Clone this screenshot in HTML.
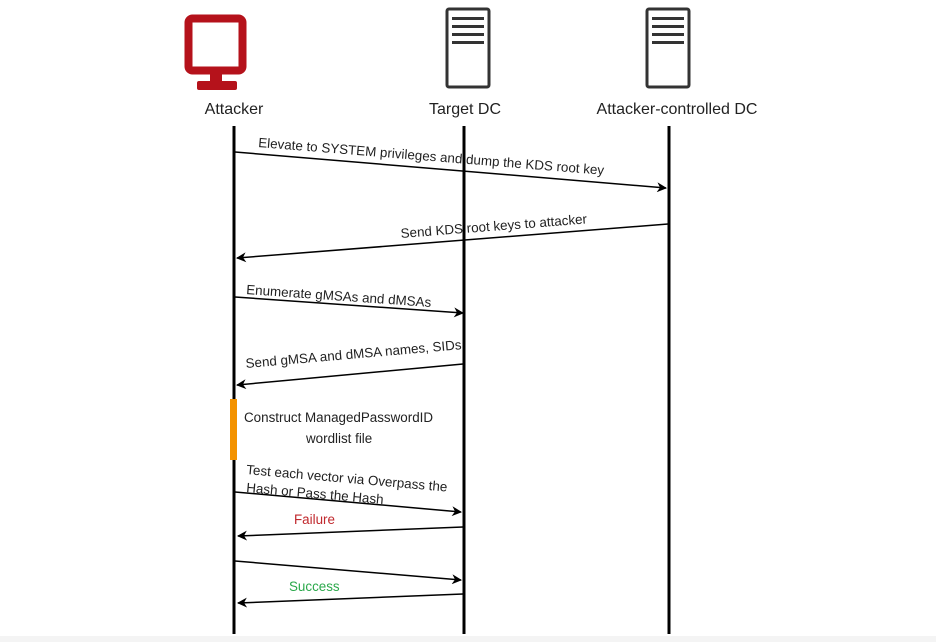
<!DOCTYPE html>
<html><head><meta charset="utf-8"><style>
html,body{margin:0;padding:0;background:#fff;}
svg{display:block;font-family:"Liberation Sans",Arial,sans-serif;}
</style></head><body>
<svg width="936" height="642" viewBox="0 0 936 642" xmlns="http://www.w3.org/2000/svg">
<defs>
<marker id="ah" viewBox="0 0 10 10" refX="9" refY="5" markerWidth="10" markerHeight="10" markerUnits="userSpaceOnUse" orient="auto">
<path d="M0,0 L10,5 L0,10 L3,5 Z" fill="#000"/>
</marker>
</defs>
<rect x="0" y="636" width="936" height="6" fill="#f4f4f4"/>
<!-- Attacker monitor -->
<rect x="188.5" y="18.5" width="54" height="52" rx="4" fill="none" stroke="#b5121b" stroke-width="8"/>
<rect x="210" y="72" width="12" height="10" fill="#b5121b"/>
<rect x="197" y="81" width="40" height="9" rx="2" fill="#b5121b"/>
<!-- servers -->
<g fill="none" stroke="#333" stroke-width="3">
<rect x="447" y="9" width="42" height="78" rx="2"/>
<rect x="647" y="9" width="42" height="78" rx="2"/>
</g>
<g fill="#333">
<rect x="452" y="17" width="32" height="3"/><rect x="452" y="25" width="32" height="3"/><rect x="452" y="33" width="32" height="3"/><rect x="452" y="41" width="32" height="3"/>
<rect x="652" y="17" width="32" height="3"/><rect x="652" y="25" width="32" height="3"/><rect x="652" y="33" width="32" height="3"/><rect x="652" y="41" width="32" height="3"/>
</g>
<g font-size="16" fill="#222" text-anchor="middle">
<text x="234" y="114">Attacker</text>
<text x="465" y="114">Target DC</text>
<text x="677" y="114">Attacker-controlled DC</text>
</g>
<!-- lifelines -->
<g stroke="#000" stroke-width="3">
<line x1="234" y1="126" x2="234" y2="634"/>
<line x1="464" y1="126" x2="464" y2="634"/>
<line x1="669" y1="126" x2="669" y2="634"/>
</g>
<rect x="230" y="399" width="7" height="61" fill="#f39200"/>
<!-- arrows -->
<g stroke="#000" stroke-width="1.5" marker-end="url(#ah)">
<line x1="235" y1="152" x2="666" y2="188"/>
<line x1="668" y1="224" x2="237" y2="258"/>
<line x1="235" y1="297" x2="463" y2="313"/>
<line x1="463" y1="364" x2="237" y2="385"/>
<line x1="235" y1="492" x2="461" y2="512"/>
<line x1="463" y1="527" x2="238" y2="536"/>
<line x1="235" y1="561" x2="461" y2="580"/>
<line x1="463" y1="594" x2="238" y2="603"/>
</g>
<g font-size="13.4" fill="#222">
<text x="258" y="147" transform="rotate(4.6 258 147)">Elevate to SYSTEM privileges and dump the KDS root key</text>
<text x="401" y="238" transform="rotate(-4.5 401 238)">Send KDS root keys to attacker</text>
<text x="246" y="294" transform="rotate(4 246 294)">Enumerate gMSAs and dMSAs</text>
<text x="246" y="368" transform="rotate(-5 246 368)">Send gMSA and dMSA names, SIDs</text>
<text x="244" y="422">Construct ManagedPasswordID</text>
<text x="306" y="443">wordlist file</text>
<text x="246" y="474" transform="rotate(5 246 474)">Test each vector via Overpass the</text>
<text x="246" y="492" transform="rotate(5 246 492)">Hash or Pass the Hash</text>
<text x="294" y="524" fill="#c0282d">Failure</text>
<text x="289" y="591" fill="#2aa84a">Success</text>
</g>
</svg>
</body></html>
